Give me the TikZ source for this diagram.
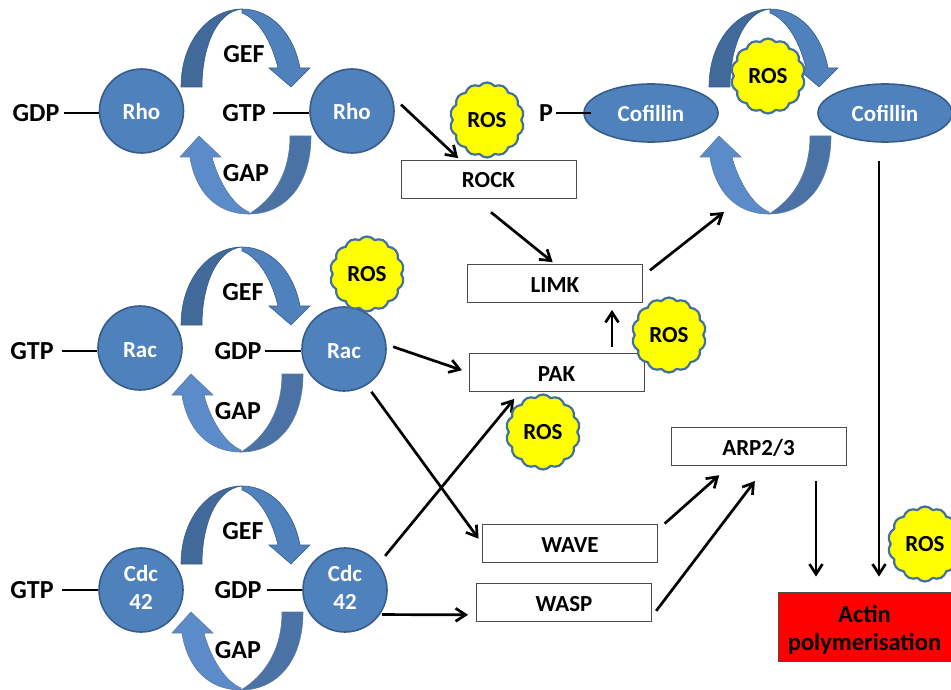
\documentclass[tikz,border=0pt]{standalone}
\usepackage{fontspec}
\setmainfont{Carlito}
\usetikzlibrary{arrows.meta,shapes.geometric,shapes.symbols}
\definecolor{gtpaseblue}{HTML}{4F81BD}
\definecolor{gtpaseedge}{HTML}{385D8A}
\definecolor{arrowdark}{HTML}{41699A}
\definecolor{arrowdim}{HTML}{4A72A5}
\definecolor{arrowpale}{HTML}{5B8BC9}
\definecolor{rosedge}{HTML}{41719C}
\definecolor{rosfill}{HTML}{FFFF00}
\definecolor{actinfill}{HTML}{FF0000}
\tikzset{
  gefarrow/.pic={
    \filldraw[arrowdark,draw=gtpaseedge,line width=0.6pt] (0,0) .. controls (0,-47) and (29,-78) .. (61,-78)
      .. controls (34,-75) and (21,-37) .. (21,0) -- cycle;
    \filldraw[gtpaseblue,draw=gtpaseedge,line width=0.6pt] (61,-78) .. controls (91,-78) and (113,-52) .. (119,-19)
      -- (129,-19) -- (110,0) -- (88,-19) -- (97,-19) .. controls (89,-52) and (74,-69) .. (61,-74) -- cycle;
  },
  gaparrow/.pic={
    \filldraw[arrowdim,draw=gtpaseedge!80,line width=0.6pt] (0,0) .. controls (0,49) and (-26,78) .. (-62,78)
      .. controls (-39,64) and (-21,39) .. (-21,0) -- cycle;
    \filldraw[arrowpale,draw=gtpaseedge!80,line width=0.6pt] (-62,78) .. controls (-96,78) and (-116,54) .. (-121,21)
      -- (-131,21) -- (-112,0) -- (-90,21) -- (-99,21) .. controls (-93,44) and (-79,69) .. (-62,76) -- cycle;
  }
}
\begin{document}
\begin{tikzpicture}
[x=1pt,y=-1pt,
  gtpasenode/.style={shape=circle,draw=gtpaseedge,fill=gtpaseblue,line width=1.6pt,
    minimum size=84pt,inner sep=0pt,align=center,text=white,font=\bfseries\fontsize{23}{28}\selectfont},
  cofilinnode/.style={shape=ellipse,draw=gtpaseedge,fill=gtpaseblue,line width=1.6pt,
    minimum width=134pt,minimum height=58pt,inner sep=0pt,text=white,font=\bfseries\fontsize{23}{28}\selectfont},
  boxnode/.style={shape=rectangle,draw=black!70,fill=white,line width=0.9pt,
    minimum width=175pt,minimum height=38pt,inner sep=0pt,text height=17pt,text depth=0pt,
    font=\bfseries\fontsize{23}{28}\selectfont},
  rosnode/.style={shape=cloud,cloud puffs=14,cloud puff arc=100,aspect=1,draw=rosedge,fill=rosfill,line width=2.2pt,
    minimum width=74pt,minimum height=75pt,inner sep=0pt,font=\bfseries\fontsize{23}{28}\selectfont},
  labelnode/.style={inner sep=3pt,text height=17pt,text depth=0pt,font=\bfseries\fontsize{26}{30}\selectfont},
  bondline/.style={-,line width=2.6pt},
  linedecorate/.style={-{Straight Barb[length=10pt,width=13pt]},line width=2.7pt}]
\useasboundingbox (0,0) rectangle (951,690);
%% curved block arrows
\foreach \x/\y in {181/87, 181/325, 181/564, 709/87} {
  \pic at (\x,\y) {gefarrow};
}
\foreach \x/\y in {311/136, 303/374, 303/612, 831/136} {
  \pic at (\x,\y) {gaparrow};
}
%% GTPases and cofilin
\foreach \nodename/\x/\y/\nodetext in {rhoA/141.5/111/{\rule{0pt}{18pt}Rho}, rhoB/352/111/{\rule{0pt}{18pt}Rho},
  racA/140/348/{\rule{0pt}{20pt}Rac}, racB/344/349/{\rule{0pt}{20pt}Rac},
  cdcA/141/590/{Cdc\\42\rule[-6pt]{0pt}{1pt}}, cdcB/345/590/{Cdc\\42\rule[-6pt]{0pt}{1pt}}} {
  \node (\nodename) at (\x,\y) [gtpasenode] {\nodetext};
}
\node (cofA) at (651,113) [cofilinnode] {Cofillin};
\node (cofB) at (885,113) [cofilinnode] {Cofillin};
%% plain labels
\foreach \nodename/\x/\y/\nodetext in {gdpRho/36/113/GDP, gtpRho/244/113/GTP, gefRho/244/54/GEF, gapRho/246/173/GAP,
  gtpRac/32/351/GTP, gdpRac/238/351/GDP, gefRac/243/292/GEF, gapRac/238/411/GAP,
  gtpCdc/32/590/GTP, gdpCdc/238/590/GDP, gefCdc/243/531/GEF, gapCdc/238/650/GAP, phos/546/113/P} {
  \node (\nodename) at (\x,\y) [labelnode] {\nodetext};
}
%% boxes
\foreach \nodename/\x/\y/\nodetext in {rock/488.5/179/ROCK, limk/555/283.5/LIMK, pak/556.5/372.5/PAK,
  arp/758.5/446.5/ARP2\slash 3, wave/570/543.5/WAVE, wasp/564/602.5/WASP} {
  \node (\nodename) at (\x,\y) [boxnode] {\nodetext};
}
\node (actin) at (864.5,626.5) [boxnode,text height=,text depth=,fill=actinfill,minimum width=173pt,minimum height=69pt,
  align=center,font=\bfseries\fontsize{24.5}{28}\selectfont] {\rule{0pt}{23pt}Actin\\polymerisation};
\coordinate (cofCycle) at (724,212);
%% lines to the GTPases
\foreach \startnode/\endnode/\gapstart in {gdpRho/rhoA/1, gtpRho/rhoB/4, gtpRac/racA/5, gdpRac/racB/0, gtpCdc/cdcA/5, gdpCdc/cdcB/2} {
  \draw[bondline,shorten <=\gapstart pt] (\startnode.east) -- (\startnode.east -| \endnode.west);
}
\draw[bondline,shorten >=-8pt] (phos.east) -- (phos.east -| cofA.west);
%% arrows
\foreach \startnode/\endnode/\gapstart/\gapend in {rhoB.20/rock.146/12/2, rock.-127/limk.north/22/3,
  limk.5/cofCycle/9/0, racB.6/pak.west/7/7, racB.-58/wave.west/8/6,
  cdcB.38/pak.-152/10/9, cdcB.-35/wasp.188/2/8, wave.9/arp.-146/9/14, wasp.-9/arp.-68/7/19} {
  \draw[linedecorate,shorten <=\gapstart pt,shorten >=\gapend pt] (\startnode) -- (\endnode);
}
\draw[linedecorate,shorten <=6pt,shorten >=7pt] ([xshift=55.5pt]pak.north) -- ([xshift=55.5pt]pak.north |- limk.south);
\draw[linedecorate,shorten <=15pt,shorten >=15pt] ([xshift=57.5pt]arp.south) -- ([xshift=57.5pt]arp.south |- actin.north);
\draw[linedecorate,shorten <=18pt,shorten >=15pt] ([xshift=14.5pt]actin.north |- cofB.south) -- ([xshift=14.5pt]actin.north);
%% ROS clouds
\foreach \nodename/\x/\y in {rosRock/487/120, rosRac/367/274, rosLimk/669/335, rosPak/543/432,
  rosCof/768/76, rosActin/925/544} {
  \node (\nodename) at (\x,\y) [rosnode] {ROS};
}
\end{tikzpicture}
\end{document}
